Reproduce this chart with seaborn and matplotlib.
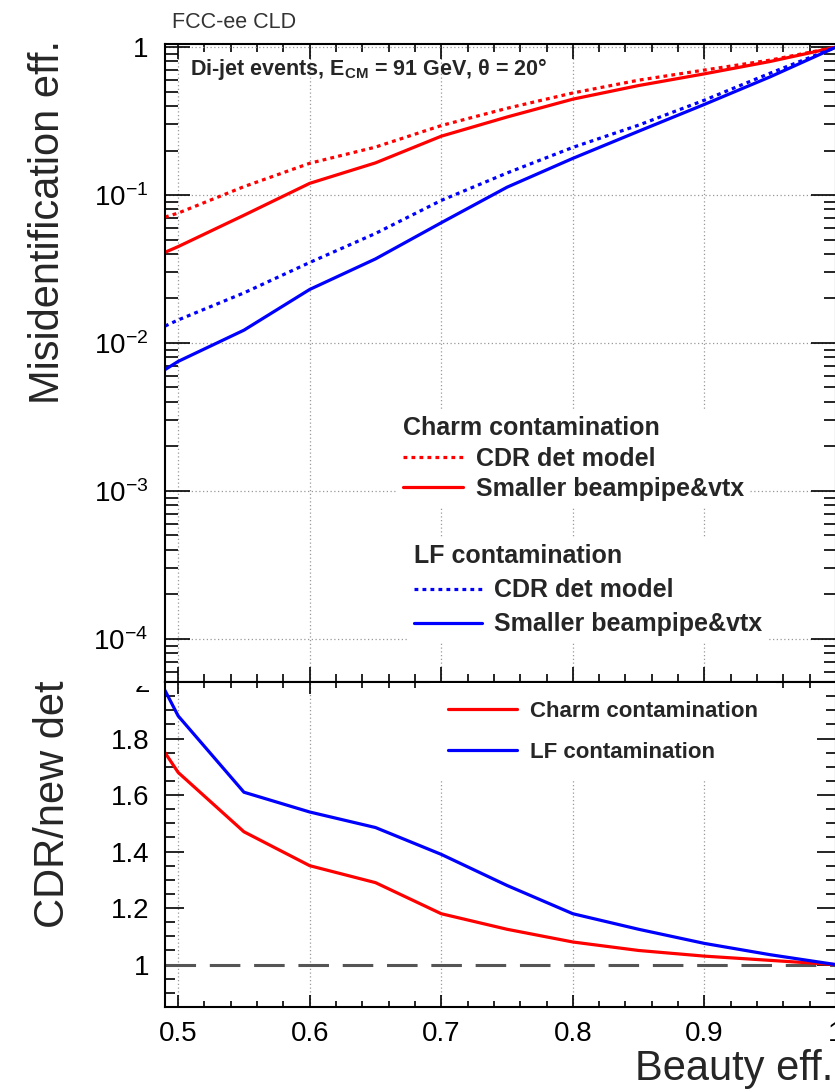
import numpy as np
import matplotlib
matplotlib.use("Agg")
import matplotlib.pyplot as plt
import seaborn as sns
from matplotlib.ticker import FixedLocator, FixedFormatter, MultipleLocator, LogLocator, NullFormatter
from matplotlib.transforms import Bbox, TransformedBbox

# beauty tagging efficiency (x)
beauty_eff = [0.49, 0.50, 0.55, 0.60, 0.65, 0.70, 0.75, 0.80, 0.85, 0.90, 0.95, 1.00]

# misidentification efficiency
charm_cdr = [0.071, 0.0755, 0.114, 0.164, 0.211, 0.295, 0.386, 0.49, 0.598, 0.70, 0.817, 1.0]
charm_new = [0.041, 0.0448, 0.073, 0.120, 0.165, 0.250, 0.337, 0.445, 0.55, 0.66, 0.80, 1.0]
lf_cdr = [0.013, 0.0143, 0.0218, 0.035, 0.055, 0.092, 0.141, 0.21, 0.297, 0.438, 0.667, 1.0]
lf_new = [0.0066, 0.0075, 0.0122, 0.023, 0.037, 0.065, 0.113, 0.177, 0.27, 0.41, 0.63, 1.0]

# ratio CDR / new detector, lower panel
ratio_charm = [1.75, 1.68, 1.47, 1.35, 1.29, 1.18, 1.125, 1.08, 1.05, 1.03, 1.015, 1.0]
ratio_lf = [1.97, 1.88, 1.61, 1.54, 1.485, 1.39, 1.28, 1.18, 1.125, 1.075, 1.035, 1.0]
ratio_ref = 1.0

x_ticks = [0.5, 0.6, 0.7, 0.8, 0.9, 1.0]
x_tick_labels = ['0.5', '0.6', '0.7', '0.8', '0.9', '1']
log_ticks = [1e-4, 1e-3, 1e-2, 1e-1, 1.0]
log_tick_labels = [r'$10^{-4}$', r'$10^{-3}$', r'$10^{-2}$', r'$10^{-1}$', '1']
ratio_ticks = [1.0, 1.2, 1.4, 1.6, 1.8, 2.0]
ratio_tick_labels = ['1', '1.2', '1.4', '1.6', '1.8', '2']

sns.set_style('ticks')
plt.rcParams['font.family'] = ['Liberation Sans', 'DejaVu Sans']
plt.rcParams['mathtext.fontset'] = 'custom'
plt.rcParams['mathtext.rm'] = 'Liberation Sans'
plt.rcParams['mathtext.it'] = 'Liberation Sans:italic'
plt.rcParams['mathtext.bf'] = 'Liberation Sans:bold'
plt.rcParams['axes.linewidth'] = 1.5

W, H = 835, 1092
fig = plt.figure(figsize=(W / 100, H / 100), dpi=100)


def px_box(left, top, right, bottom):
    return [left / W, 1 - bottom / H, (right - left) / W, (bottom - top) / H]


ax_top = fig.add_axes(px_box(165, 44, 836, 682))
ax_bot = fig.add_axes(px_box(165, 682, 836, 1007))

# upper panel: misidentification curves
dot = (0, (1.2, 1.3))
series = [(charm_cdr, 'red', dot), (charm_new, 'red', '-'),
          (lf_cdr, 'blue', dot), (lf_new, 'blue', '-')]
handles = []
for vals, col, ls in series:
    sns.lineplot(x=beauty_eff, y=vals, ax=ax_top, color=col, linestyle=ls,
                 linewidth=2.3, errorbar=None, legend=False)
    handles.append(ax_top.lines[-1])

ax_top.set_yscale('log')
ax_top.set_xlim(0.49, 1.0)
ax_top.set_ylim(5.1e-5, 1.05)
ax_top.xaxis.set_major_locator(FixedLocator(x_ticks))
ax_top.xaxis.set_minor_locator(MultipleLocator(0.02))
ax_top.yaxis.set_major_locator(FixedLocator(log_ticks))
ax_top.yaxis.set_major_formatter(FixedFormatter(log_tick_labels))
ax_top.yaxis.set_minor_locator(LogLocator(base=10, subs=np.arange(2, 10), numticks=20))
ax_top.yaxis.set_minor_formatter(NullFormatter())
ax_top.grid(True, which='major', axis='both', color='#999999', linestyle=(0, (1, 2)), linewidth=0.9)
ax_top.set_xlabel('')
ax_top.set_ylabel('')

# lower panel: ratio
ratio_handles = []
for vals, col in [(ratio_charm, 'red'), (ratio_lf, 'blue')]:
    sns.lineplot(x=beauty_eff, y=vals, ax=ax_bot, color=col, linewidth=2.3,
                 errorbar=None, legend=False)
    ratio_handles.append(ax_bot.lines[-1])
ax_bot.axhline(ratio_ref, color='#555555', linewidth=2.2, linestyle=(0, (10, 4.5)), zorder=1.5)

ax_bot.set_xlim(0.49, 1.0)
ax_bot.set_ylim(0.85, 2.0)
ax_bot.xaxis.set_major_locator(FixedLocator(x_ticks))
ax_bot.xaxis.set_major_formatter(FixedFormatter(x_tick_labels))
ax_bot.xaxis.set_minor_locator(MultipleLocator(0.02))
ax_bot.yaxis.set_major_locator(FixedLocator(ratio_ticks))
ax_bot.yaxis.set_major_formatter(FixedFormatter(ratio_tick_labels))
ax_bot.yaxis.set_minor_locator(MultipleLocator(0.05))
ax_bot.grid(True, which='major', axis='x', color='#999999', linestyle=(0, (1, 2)), linewidth=0.9)
ax_bot.set_xlabel('')
ax_bot.set_ylabel('')

for ax in (ax_top, ax_bot):
    ax.tick_params(which='both', direction='in', top=True, right=True, width=1.2,
                   colors='black', labelsize=20)
    for sp in ax.spines.values():
        sp.set_color('black')
        sp.set_linewidth(1.5)
ax_top.tick_params(axis='x', which='major', length=11, labelbottom=False)
ax_top.tick_params(axis='x', which='minor', length=5.5)
ax_top.tick_params(axis='y', which='major', length=18, pad=12)
ax_top.tick_params(axis='y', which='minor', length=9)
ax_bot.tick_params(axis='x', which='major', length=8.5, pad=10)
ax_bot.tick_params(axis='x', which='minor', length=4)
ax_bot.tick_params(axis='y', which='major', length=14, pad=11)
ax_bot.tick_params(axis='y', which='minor', length=7)

# legends
leg_kw = dict(loc='upper left', bbox_transform=fig.transFigure, frameon=True,
              facecolor='white', edgecolor='none', framealpha=1, fancybox=False,
              borderpad=0.25, handletextpad=0.5, borderaxespad=0,
              alignment='left', prop={'size': 18, 'weight': 'bold'},
              title_fontproperties={'size': 18, 'weight': 'bold'})
leg1 = ax_top.legend(handles[:2], ['CDR det model', 'Smaller beampipe&vtx'],
                     title='Charm contamination', bbox_to_anchor=(397 / W, 1 - 410 / H),
                     handlelength=2.4, labelspacing=0.25, **leg_kw)
ax_top.add_artist(leg1)
ax_top.legend(handles[2:], ['CDR det model', 'Smaller beampipe&vtx'],
              title='LF contamination', bbox_to_anchor=(408 / W, 1 - 538 / H),
              handlelength=2.7, labelspacing=0.4, **leg_kw)

ax_bot.legend(ratio_handles, ['Charm contamination', 'LF contamination'], loc='upper left',
              bbox_to_anchor=(430 / W, 1 - 683 / H), bbox_transform=fig.transFigure,
              frameon=True, facecolor='white', edgecolor='none', framealpha=1, fancybox=False,
              borderpad=0.8, handlelength=3.1, handletextpad=0.6, labelspacing=0.9,
              borderaxespad=0, prop={'size': 16, 'weight': 'bold'})

# texts
ax_top.text(0.0373, 0.951, r'Di-jet events, $\mathbf{E}_{\mathbf{CM}}$ = 91 GeV, θ = 20°',
            transform=ax_top.transAxes, fontsize=15.5, fontweight='bold', ha='left', va='baseline')
fig.text(172 / W, 1 - 23 / H, 'FCC-ee CLD', ha='left', va='center', fontsize=15.5, color='#333333')
fig.text(48 / W, 1 - 40 / H, 'Misidentification eff.', rotation=90, ha='center', va='top', fontsize=30)
fig.text(53 / W, 1 - 680 / H, 'CDR/new det', rotation=90, ha='center', va='top', fontsize=30)
fig.text(833 / W, 1 - 1080 / H, 'Beauty eff.', ha='right', va='baseline', fontsize=30)

# the "2" of the ratio axis is half hidden under the upper pad
fig.canvas.draw()
for tick in ax_bot.yaxis.get_major_ticks():
    if abs(tick.get_loc() - 2.0) < 1e-9:
        tick.label1.set_clip_box(TransformedBbox(Bbox([[0, 0], [1, 1 - 686 / H]]), fig.transFigure))
        tick.label1.set_clip_on(True)

fig.savefig('out.png', dpi=100)
